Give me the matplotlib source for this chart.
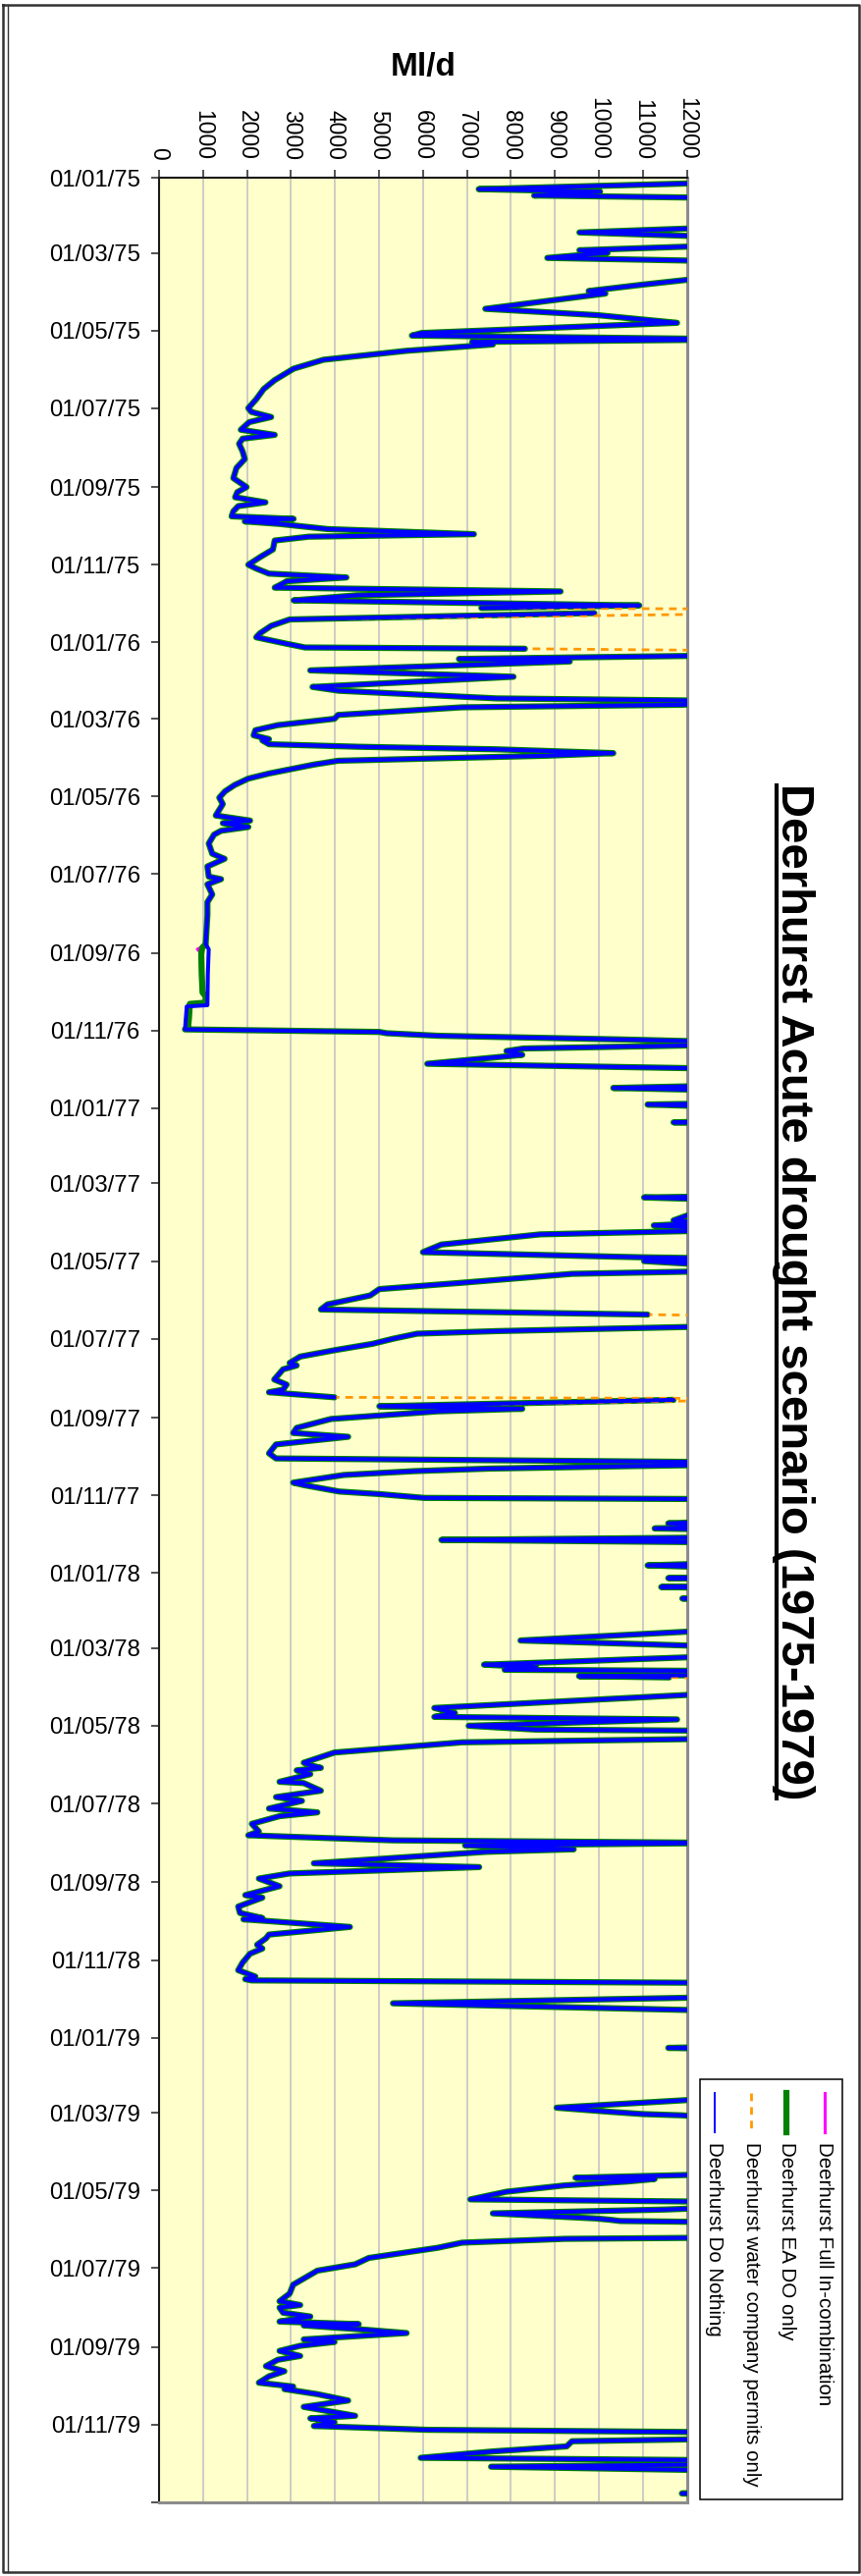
import numpy as np
import matplotlib
matplotlib.use("Agg")
import matplotlib.pyplot as plt
import matplotlib.dates as mdates
from matplotlib.lines import Line2D
from matplotlib.patches import Rectangle
from matplotlib.ticker import FuncFormatter, MultipleLocator

plt.rcParams["font.family"] = ["Liberation Sans", "DejaVu Sans"]

W, H = 877, 2624
DPI = 100

START = np.datetime64("1975-01-01")
END = np.datetime64("1980-01-01")

# Daily flow series (Ml/d) sampled at turning points; day = days since 01/01/75.
# None marks days with no modelled value.
day = [
    0, 4, 9, 11, 14, 16, 39, 43, 47, 53, 57, 59, 63, 66, 78, 84, 89, 91, 103, 108,
    114, 122, 124, 127, 129, 131, 136, 143, 150, 159, 166, 174, 181, 184, 188, 192,
    198, 202, 205, 209, 215, 221, 228, 236, 243, 247, 251, 255, 258, 262, 266, 268,
    270, 272, 276, 280, 282, 285, 292, 298, 304, 307, 311, 314, 317, 319, 322, 325,
    328, 332, 336, 338, 339, 341, 342, 347, 352, 358, 361, 366, 369, 370, 372, 374,
    375, 378, 380, 387, 392, 400, 403, 409, 411, 413, 414, 416, 422, 425, 430, 434,
    438, 441, 442, 445, 447, 449, 452, 454, 458, 461, 468, 472, 477, 482, 487, 492,
    501, 505, 507, 510, 513, 516, 523, 531, 535, 541, 549, 551, 555, 563, 569, 579,
    602, 606, 625, 650, 651, 660, 669, 671, 672, 674, 677, 679, 681, 684, 686, 689,
    696, 700, 713, 715, 717, 727, 728, 730, 741, 742, 743, 800, 801, 803, 819, 821,
    823, 825, 827, 830, 838, 844, 848, 849, 851, 855, 859, 861, 868, 873, 878, 885,
    889, 893, 895, 900, 902, 906, 908, 912, 916, 921, 926, 931, 933, 936, 944, 948,
    952, 954, 958, 959, 960, 965, 967, 969, 975, 982, 986, 989, 995, 1002, 1006, 1009,
    1011, 1012, 1014, 1016, 1019, 1025, 1027, 1032, 1034, 1037, 1038, 1055, 1057, 1059, 1060, 1061,
    1062, 1068, 1070, 1072, 1088, 1090, 1092, 1099, 1100, 1101, 1106, 1107, 1108, 1115, 1116, 1117,
    1140, 1141, 1149, 1154, 1161, 1168, 1170, 1172, 1173, 1176, 1177, 1178, 1179, 1190, 1202, 1206,
    1209, 1211, 1216, 1219, 1220, 1226, 1229, 1237, 1245, 1247, 1249, 1251, 1254, 1260, 1261, 1267,
    1272, 1275, 1281, 1284, 1287, 1293, 1299, 1302, 1306, 1308, 1310, 1313, 1315, 1324, 1327, 1332,
    1336, 1342, 1349, 1351, 1358, 1363, 1367, 1368, 1374, 1380, 1383, 1388, 1391, 1395, 1402, 1408,
    1413, 1415, 1416, 1418, 1429, 1434, 1440, 1468, 1469, 1470, 1508, 1516, 1519, 1521, 1522, 1525,
    1568, 1571, 1572, 1574, 1577, 1582, 1588, 1590, 1594, 1596, 1599, 1603, 1604, 1605, 1606, 1618,
    1619, 1622, 1626, 1634, 1639, 1644, 1650, 1655, 1662, 1668, 1671, 1673, 1677, 1680, 1684, 1686,
    1687, 1690, 1693, 1698, 1700, 1703, 1707, 1711, 1714, 1719, 1723, 1727, 1732, 1735, 1737, 1741,
    1746, 1751, 1758, 1760, 1763, 1766, 1769, 1771, 1776, 1778, 1782, 1786, 1791, 1793, 1796, 1798,
    1801, 1818, 1819, 1820, 1826,
]

do_nothing = [
    14000, 12600, 7270, 10030, 8530, 13000, 12800, 9560, 13200, 13000, 9560, 10200, 8830, 13400, 12600, 11000, 9770, 10150, 7420, 9980,
    11780, 5970, 5750, 13500, 7120, 7590, 5620, 3740, 3060, 2630, 2380, 2210, 2030, 2100, 2550, 2050,
    1860, 2630, 1900, 1820, 1900, 1950, 1760, 1690, 1990, 1780, 1730, 2420, 1800, 1690, 1650, 3060,
    1950, 2750, 3830, 7160, 3400, 2630, 2590, 2300, 2030, 2210, 2500, 4260, 2900, 2800, 2630, 9130,
    4500, 3060, 10920, 7330, None, None, 9900, 2970, 2550, 2290, 2210, 2890, 3320, 8320, None, None,
    13500, 6820, 9340, 3440, 8060, 3490, 4090, 7670, 13000, 12500, 11900, 6890, 4070, 3990, 2700, 2190,
    2150, 2500, 2350, 2500, 4540, 7670, 10330, 8840, 4070, 3520, 2500, 2030, 1720, 1500, 1370, 1450,
    1290, 2070, 1450, 2030, 1410, 1250, 1130, 1210, 1490, 1100, 1130, 1410, 1100, 1210, 1100, 1100,
    1060, 1130, 1110, 1100, 630, 610, 590, 5010, 5170, 6340, 10640, 13000, 13000, 8290, 7900, 8260,
    6100, 13000, 13000, 10330, 13000, 13000, 11110, 13000, 13000, 11700, 13000, 13000, 11030, 13000, 11700, 12400,
    11250, 12300, 12600, 8670, 6420, 6000, 10950, 13000, 11030, 13000, 12500, 9390, 6890, 5010, 4800, 3830,
    3680, 11110, None, None, 13000, 7670, 5870, 5320, 4850, 3990, 3210, 2970, 3130, 2820, 2620, 2900,
    2820, 2500, 3990, None, 11700, 5010, 8260, 6340, 3910, 3130, 3050, 4300, 2660, 2500, 2660, 13000,
    12800, 10800, 7500, 5790, 4200, 3050, 3300, 4100, 5010, 6030, 13000, 13000, 11580, 13000, 12500, 11270,
    13000, 13000, 6420, 13000, 13000, 11110, 13000, 13000, 11580, 13000, 13000, 11420, 13000, 13000, 11900, 13000,
    13000, 12600, 8220, 13000, 13000, 7390, 8570, 7860, 13000, 13000, 9550, 11600, None, 13000, 6260, 6730,
    6260, 11780, 7040, 8570, 13000, 13000, 6890, 3990, 3290, 3440, 3680, 3130, 3440, 2740, 3290, 3680,
    2660, 3250, 2500, 3600, 2740, 2110, 2270, 2030, 5320, 13000, 6960, 9430, 7440, 3520, 7280, 2970,
    2270, 2740, 1960, 2350, 1800, 1840, 2350, 1920, 4340, 2500, 2430, 2230, 2350, 2070, 1900, 1800,
    2190, 1960, 2100, 13000, 13000, 5320, 13000, 13000, 11580, 13000, 13000, 9040, 10170, 11000, 11900, 13000,
    13000, 9470, 11270, 10640, 9230, 7900, 7080, 13000, 13000, 11500, 7590, 9940, 10250, 10490, 13000, 13000,
    9230, 6890, 6340, 4770, 4460, 3600, 3300, 3050, 2970, 2740, 3210, 2740, 2820, 3440, 2740, 4540,
    3290, 4540, 5630, 3290, 3990, 3210, 2740, 3210, 2700, 2430, 2850, 2500, 2270, 3050, 2850, 3600,
    4300, 3290, 4460, 3440, 3990, 3520, 6100, 13000, 13000, 9390, 9270, 7590, 5950, 13000, 13000, 7550,
    13000, 13000, 11890, 13000, 13000,
]

# EA DO only: departs from Do Nothing during the autumn 1976 low flows
ea_do_only_day = [602, 605, 610, 625, 640, 643, 648, 649, 660, 667, 669]
ea_do_only_val = [1060, 980, 960, 970, 990, 1060, 1060, 700, 680, 660, 590]

# Full in-combination: lowest trace at the start of September 1976
full_incomb_day = [604, 606, 607, 609]
full_incomb_val = [1000, 870, 900, 960]

# Water company permits only: values on days where Do Nothing is missing or lower
permits_only_day = [339, 341, 342, 372, 374, 895, 900, 959, 960, 1179]
permits_only_val = [14500, 14500, 14500, 15000, 15000, 15000, 15000, 14000, 13500, 14000]


def splice(base_d, base_v, seg_d, seg_v):
    lo, hi = min(seg_d), max(seg_d)
    pts = {d: v for d, v in zip(base_d, base_v) if not (lo <= d <= hi)}
    pts.update(zip(seg_d, seg_v))
    ds = sorted(pts)
    return ds, [pts[d] for d in ds]


def replace_points(base_d, base_v, new_d, new_v):
    pts = dict(zip(base_d, base_v))
    pts.update(zip(new_d, new_v))
    ds = sorted(pts)
    return ds, [pts[d] for d in ds]


def to_xy(ds, vs):
    dates = START + np.array(ds, dtype="int64").astype("timedelta64[D]")
    vals = np.array([np.nan if v is None else v for v in vs], dtype=float)
    return vals, dates


ea_d, ea_v = splice(day, do_nothing, ea_do_only_day, ea_do_only_val)
fic_d, fic_v = splice(ea_d, ea_v, full_incomb_day, full_incomb_val)
wc_d, wc_v = replace_points(day, do_nothing, permits_only_day, permits_only_val)

fig = plt.figure(figsize=(W / DPI, H / DPI), dpi=DPI)
fig.patch.set_facecolor("white")


def fx(px):
    return px / W


def fy(py):
    return 1 - py / H


# outer frame
frame_kw = dict(transform=fig.transFigure, color="#333333", solid_capstyle="projecting")
fig.add_artist(Line2D([fx(2.5), fx(874.5), fx(874.5), fx(2.5), fx(2.5)],
                      [fy(5), fy(5), fy(2620), fy(2620), fy(5)], lw=1.8, **frame_kw))
fig.add_artist(Line2D([fx(7.5), fx(7.5)], [fy(5), fy(2620)], lw=1.0, **frame_kw))

ax_left, ax_right, ax_top, ax_bottom = 162, 699.5, 181, 2549
ax = fig.add_axes([fx(ax_left), fy(ax_bottom), (ax_right - ax_left) / W, (ax_bottom - ax_top) / H])
ax.set_facecolor("#FFFFCC")

ax.set_xlim(0, 12000)
ax.set_ylim(END, START)

ax.xaxis.tick_top()
ax.xaxis.set_major_locator(MultipleLocator(1000))
ax.xaxis.set_major_formatter(FuncFormatter(lambda v, pos: f"{int(round(v))}"))
ax.tick_params(axis="x", direction="out", length=5.8, width=1.1, pad=7.5,
               labelsize=16.5, labelrotation=270, color="#222222")

ax.yaxis.set_major_locator(mdates.MonthLocator(bymonth=[1, 3, 5, 7, 9, 11]))


def date_label(v, pos):
    d = mdates.num2date(v)
    return "" if d.year >= 1980 else d.strftime("%d/%m/%y")


ax.yaxis.set_major_formatter(FuncFormatter(date_label))
ax.tick_params(axis="y", direction="out", length=5.8, width=1.1, pad=8,
               labelsize=17.2, color="#222222")

ax.grid(axis="x", color="#C0C0C0", lw=1.1)
ax.grid(axis="y", visible=False)
ax.set_axisbelow(True)

for side in ("left", "top"):
    ax.spines[side].set_color("#1a1a1a")
    ax.spines[side].set_linewidth(1.5)
for side in ("right", "bottom"):
    ax.spines[side].set_color("#8c8c8c")
    ax.spines[side].set_linewidth(2.2)

line_kw = dict(solid_capstyle="round", solid_joinstyle="round")
ax.plot(*to_xy(fic_d, fic_v), color="#FF00FF", lw=2.2, zorder=3, **line_kw)
ax.plot(*to_xy(ea_d, ea_v), color="#008000", lw=4.5, zorder=4, **line_kw)
ax.plot(*to_xy(wc_d, wc_v), color="#FF9900", lw=2.0, dashes=(2.8, 2.2),
        dash_capstyle="butt", zorder=5)
ax.plot(*to_xy(day, do_nothing), color="#0000FF", lw=2.9, zorder=6, **line_kw)

# value axis title
fig.text(fx(431), fy(77), "Ml/d", ha="center", va="baseline",
         fontsize=24, fontweight="bold")

# chart title, rotated with the chart body, underlined
title = fig.text(fx(808), fy(1316), "Deerhurst Acute drought scenario (1975-1979)",
                 rotation=270, ha="center", va="center", fontsize=34, fontweight="bold")

# legend
leg_left, leg_right, leg_top, leg_bottom = 713, 858, 2118, 2546
fig.add_artist(Rectangle((fx(leg_left), fy(leg_bottom)), (leg_right - leg_left) / W,
                         (leg_bottom - leg_top) / H, transform=fig.transFigure,
                         facecolor="white", edgecolor="black", lw=1.1))
legend_entries = [
    ("Deerhurst Full In-combination", dict(color="#FF00FF", lw=2.2), 840),
    ("Deerhurst EA DO only", dict(color="#008000", lw=4.5), 801),
    ("Deerhurst water company permits only",
     dict(color="#FF9900", lw=2.0, dashes=(2.8, 2.2)), 765),
    ("Deerhurst Do Nothing", dict(color="#0000FF", lw=1.4), 728),
]
for label, style, xc in legend_entries:
    fig.add_artist(Line2D([fx(xc), fx(xc)], [fy(2132), fy(2172)],
                          transform=fig.transFigure, **style))
    fig.text(fx(xc), fy(2182), label, rotation=270, ha="center", va="top", fontsize=14.8)

fig.canvas.draw()
bb = title.get_window_extent(fig.canvas.get_renderer())
ux = bb.x0 + 5
fig.add_artist(Line2D([ux / W, ux / W], [bb.y0 / H, bb.y1 / H], transform=fig.transFigure,
                      color="black", lw=3.0, solid_capstyle="butt"))

fig.savefig("out.png", dpi=DPI, facecolor="white")
